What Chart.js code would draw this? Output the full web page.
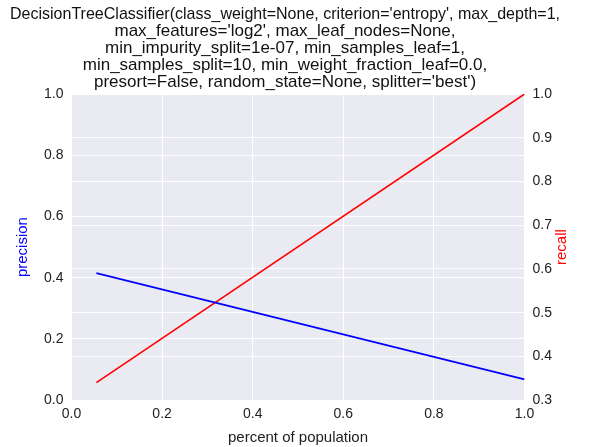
<!DOCTYPE html>
<html>
<head>
<script src="https://cdn.jsdelivr.net/npm/chart.js@4"></script>
<style>
  body { margin: 0; background: #fff; }
  #wrap { width: 591px; height: 447px; }
</style>
</head>
<body>
<div id="wrap"><canvas id="c"></canvas></div>
<script>
const TITLE_LINES = [
  "DecisionTreeClassifier(class_weight=None, criterion='entropy', max_depth=1,",
  "max_features='log2', max_leaf_nodes=None,",
  "min_impurity_split=1e-07, min_samples_leaf=1,",
  "min_samples_split=10, min_weight_fraction_leaf=0.0,",
  "presort=False, random_state=None, splitter='best')"
]
const populationX = [0.055, 1.0]
const precisionY = [0.415, 0.068]
const recallY = [0.34, 1.0]

const FONT = "'Liberation Sans', Arial, sans-serif"
const PLOT_BG = "#EAEAF2"

// seaborn-style grey panel behind the plot
const panelBg = {
  id: "panelBg",
  beforeDraw(chart) {
    const { ctx, chartArea: a } = chart
    ctx.save()
    ctx.fillStyle = PLOT_BG
    ctx.fillRect(a.left, a.top, a.right - a.left, a.bottom - a.top)
    ctx.restore()
  }
}

// right-axis label reads bottom-to-top like matplotlib's twinx ylabel
const recallLabel = {
  id: "recallLabel",
  afterDraw(chart) {
    const { ctx, chartArea: a } = chart
    ctx.save()
    ctx.translate(a.right + 37, (a.top + a.bottom) / 2)
    ctx.rotate(-Math.PI / 2)
    ctx.fillStyle = "#ff0000"
    ctx.font = "15px " + FONT
    ctx.textAlign = "center"
    ctx.textBaseline = "middle"
    ctx.fillText("recall", 0, 0)
    ctx.restore()
  }
}

const pts = (xs, ys) => xs.map((x, i) => ({ x, y: ys[i] }))

new Chart(document.getElementById("c"), {
  type: "line",
  plugins: [panelBg, recallLabel],
  data: {
    datasets: [
      { data: pts(populationX, precisionY), borderColor: "#0000ff", borderWidth: 1.6, yAxisID: "y", pointRadius: 0 },
      { data: pts(populationX, recallY), borderColor: "#ff0000", borderWidth: 1.6, yAxisID: "y2", pointRadius: 0 }
    ]
  },
  options: {
    responsive: true,
    maintainAspectRatio: false,
    animation: false,
    layout: { padding: { left: 10, right: 31, top: 0, bottom: 0 } },
    plugins: {
      legend: { display: false },
      tooltip: { enabled: false },
      title: {
        display: true,
        text: TITLE_LINES,
        color: "#111",
        font: { family: FONT, size: 17, weight: "normal", lineHeight: 1.0 },
        padding: { top: 6, bottom: 3 }
      }
    },
    scales: {
      x: {
        type: "linear", min: 0, max: 1,
        grid: { color: "#fff", lineWidth: 1, drawTicks: false },
        border: { display: false },
        ticks: { stepSize: 0.2, color: "#222", font: { family: FONT, size: 14 }, padding: 6, callback: v => v.toFixed(1) },
        title: { display: true, text: "percent of population", color: "#222", font: { family: FONT, size: 15 }, padding: 0 }
      },
      y: {
        position: "left", min: 0, max: 1,
        grid: { color: "#fff", lineWidth: 1, drawTicks: false },
        border: { display: false },
        ticks: { stepSize: 0.2, color: "#222", font: { family: FONT, size: 14 }, padding: 8, callback: v => v.toFixed(1) },
        title: { display: true, text: "precision", color: "#0000ff", font: { family: FONT, size: 15 }, padding: 4 }
      },
      y2: {
        position: "right", min: 0.3, max: 1,
        grid: { color: "#fff", lineWidth: 1, drawTicks: false },
        border: { display: false },
        ticks: { stepSize: 0.1, color: "#222", font: { family: FONT, size: 14 }, padding: 8, callback: v => v.toFixed(1) }
      }
    }
  }
})
</script>
</body>
</html>
